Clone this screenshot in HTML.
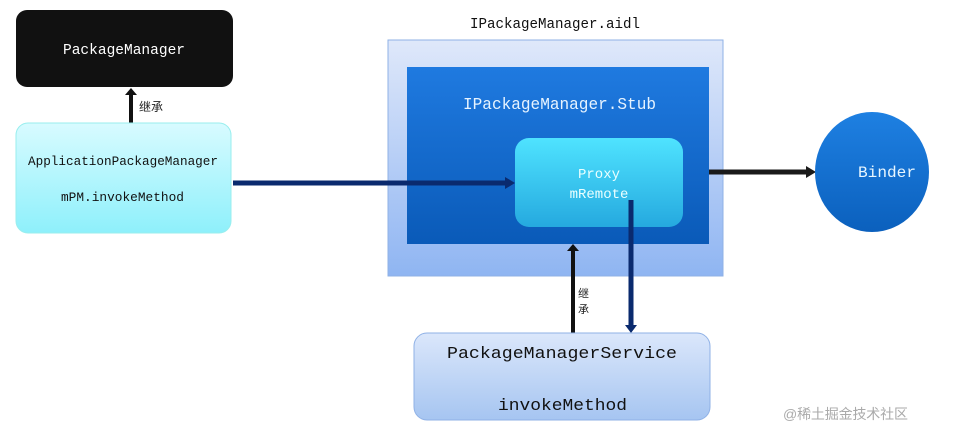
<!DOCTYPE html>
<html><head><meta charset="utf-8"><style>
body{margin:0;width:972px;height:442px;background:#fff;overflow:hidden;font-family:"Liberation Mono","Noto Sans CJK SC",monospace;}
</style></head><body>
<svg width="972" height="442" xmlns="http://www.w3.org/2000/svg" style="position:absolute;left:0;top:0">
<defs>
<linearGradient id="cy" x1="0" y1="0" x2="0" y2="1"><stop offset="0" stop-color="#d8fbff"/><stop offset="1" stop-color="#8ef0fb"/></linearGradient>
<linearGradient id="outer" x1="0" y1="0" x2="0" y2="1"><stop offset="0" stop-color="#dfe8fa"/><stop offset="1" stop-color="#8fb5f2"/></linearGradient>
<linearGradient id="stub" x1="0" y1="0" x2="0" y2="1"><stop offset="0" stop-color="#1f7ae0"/><stop offset="1" stop-color="#0a5ab8"/></linearGradient>
<linearGradient id="proxy" x1="0" y1="0" x2="0" y2="1"><stop offset="0" stop-color="#4fe3ff"/><stop offset="1" stop-color="#25a9df"/></linearGradient>
<linearGradient id="pms" x1="0" y1="0" x2="0" y2="1"><stop offset="0" stop-color="#dbe7fb"/><stop offset="1" stop-color="#a6c5f1"/></linearGradient>
<linearGradient id="bind" x1="0" y1="0" x2="0" y2="1"><stop offset="0" stop-color="#1e80e2"/><stop offset="1" stop-color="#0b60bd"/></linearGradient>
</defs>
<rect x="16" y="10" width="217" height="77" rx="11" fill="#111"/>
<text x="63" y="54" fill="#fff" font-size="15" textLength="122" lengthAdjust="spacingAndGlyphs">PackageManager</text>
<line x1="131" y1="123" x2="131" y2="94" stroke="#111" stroke-width="4"/>
<polygon points="125,95 137,95 131,88" fill="#111"/>
<text x="139" y="111" font-size="12" fill="#222">继承</text>
<rect x="16" y="123" width="215" height="110" rx="12" fill="url(#cy)" stroke="#9ee" stroke-width="1"/>
<text x="28" y="165" font-size="13" fill="#111" textLength="190" lengthAdjust="spacingAndGlyphs">ApplicationPackageManager</text>
<text x="61" y="201" font-size="13" fill="#111" textLength="123" lengthAdjust="spacingAndGlyphs">mPM.invokeMethod</text>
<text x="470" y="28" font-size="15" fill="#111" textLength="170" lengthAdjust="spacingAndGlyphs">IPackageManager.aidl</text>
<rect x="388" y="40" width="335" height="236" fill="url(#outer)" stroke="#8fb1e6"/>
<rect x="407" y="67" width="302" height="177" fill="url(#stub)"/>
<text x="463" y="109" font-size="17" fill="#e6f3ff" textLength="193" lengthAdjust="spacingAndGlyphs">IPackageManager.Stub</text>
<rect x="515" y="138" width="168" height="89" rx="14" fill="url(#proxy)"/>
<text x="599" y="178" font-size="14" text-anchor="middle" fill="#eaffff">Proxy</text>
<text x="599" y="198" font-size="14" text-anchor="middle" fill="#eaffff">mRemote</text>
<line x1="233" y1="183" x2="506" y2="183" stroke="#0a2a6e" stroke-width="5"/>
<polygon points="505,177 515,183 505,189" fill="#0a2a6e"/>
<line x1="709" y1="172" x2="808" y2="172" stroke="#1a1a1a" stroke-width="5"/>
<polygon points="806,166 816,172 806,178" fill="#1a1a1a"/>
<ellipse cx="872" cy="172" rx="57" ry="60" fill="url(#bind)"/>
<text x="858" y="177" font-size="16" fill="#e8f6ff" textLength="58" lengthAdjust="spacingAndGlyphs">Binder</text>
<line x1="573" y1="333" x2="573" y2="250" stroke="#111" stroke-width="4"/>
<polygon points="567,251 579,251 573,244" fill="#111"/>
<line x1="631" y1="200" x2="631" y2="326" stroke="#0a2a6e" stroke-width="5"/>
<polygon points="625,325 637,325 631,333" fill="#0a2a6e"/>
<text x="578" y="297" font-size="11" fill="#222">继</text>
<text x="578" y="313" font-size="11" fill="#222">承</text>
<rect x="414" y="333" width="296" height="87" rx="13" fill="url(#pms)" stroke="#8fb1e6"/>
<text x="447" y="358" font-size="17" fill="#111" textLength="230" lengthAdjust="spacingAndGlyphs">PackageManagerService</text>
<text x="498" y="410" font-size="17" fill="#111" textLength="129" lengthAdjust="spacingAndGlyphs">invokeMethod</text>
<text x="783" y="419" font-size="14" fill="#aaa" font-family="Liberation Sans,Noto Sans CJK SC,sans-serif" textLength="125">@稀土掘金技术社区</text>
</svg>
</body></html>
